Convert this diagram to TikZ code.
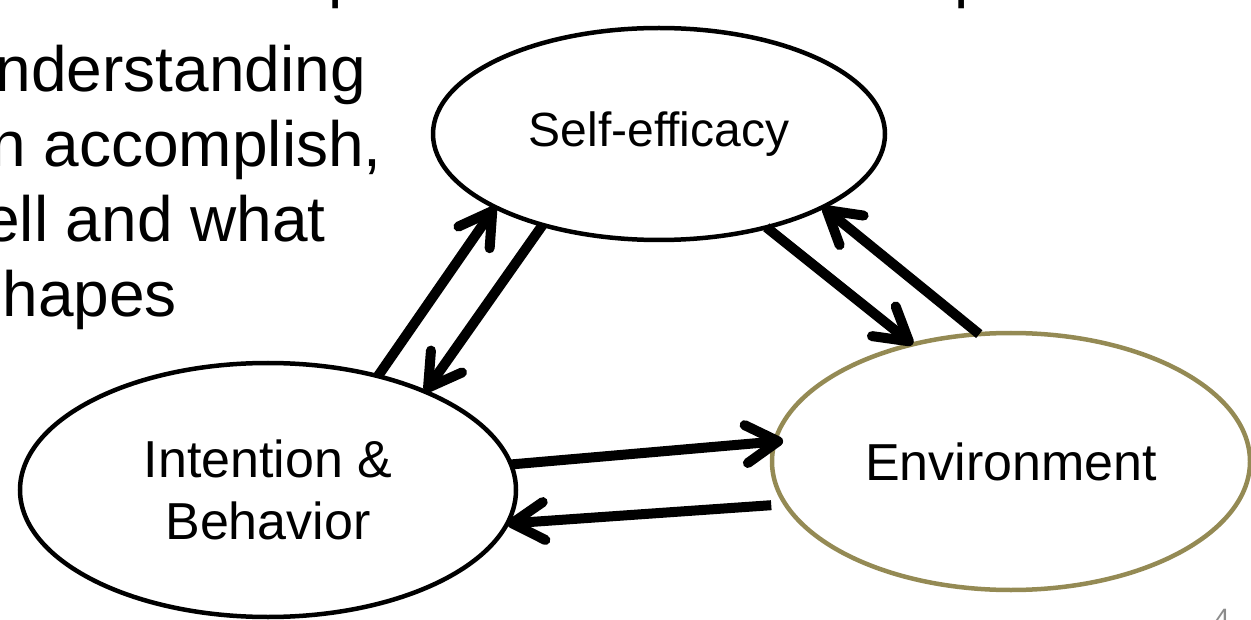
\documentclass[tikz,border=0pt]{standalone}
\usepackage{fontspec}
\setmainfont{Liberation Sans}
\usetikzlibrary{shapes.geometric,arrows.meta}
\definecolor{envolive}{HTML}{948A54}
\definecolor{pagegray}{HTML}{8C8C8C}
\begin{document}
\begin{tikzpicture}[x=1pt,y=1pt,
  bubble/.style={ellipse, draw=black, line width=4.5pt, inner sep=0pt, outer sep=0pt, align=center},
  link/.style={line width=10pt, -{Straight Barb[length=32pt,width=38pt,round]}},
  body/.style={inner sep=0pt, anchor=base east, font=\fontsize{64}{76}\selectfont}]
\useasboundingbox (0,0) rectangle (1251,-620);

% heading line above (only its descenders fall on the page)
\node[body, anchor=base west] (t1) at (328,4) {p};
\node[body, anchor=base west] (t2) at (954,4) {p};

% running text on the left
\node[body] (l1) at (366,-92) {understanding};
\node[body] (l2) at (382,-167) {can accomplish,};
\node[body] (l3) at (326,-242) {well and what};
\node[body] (l4) at (177,-317) {shapes};

% the three factors
\node[bubble, minimum width=452pt, minimum height=212pt,
      font=\fontsize{48}{58}\selectfont] (se) at (659,-134) {\raisebox{7pt}{Self-efficacy}};
\node[bubble, minimum width=496pt, minimum height=254pt,
      font=\fontsize{52}{62}\selectfont] (ib) at (268,-490) {Intention \&\\Behavior};
\node[bubble, draw=envolive, minimum width=478pt, minimum height=257pt,
      font=\fontsize{52}{62}\selectfont] (env) at (1011,-461.5) {Environment};

% reciprocal influences
\draw[link] (ib.46.6) -- (se.204.7);
\draw[link] (se.218.6) -- (ib.32.2);
\draw[link] (se.-41.1) -- (env.130.7);
\draw[link] (env.104.9) -- (se.-24.1);
\draw[link] (ib.6.8) -- ([xshift=8pt]env.175.9);
\draw[link] ([xshift=-15pt]env.191.4) -- (ib.-8.75);

% page number
\node[inner sep=0pt, anchor=base west, text=pagegray,
      font=\fontsize{28}{34}\selectfont] (pg) at (1214,-628) {4};
\end{tikzpicture}
\end{document}
